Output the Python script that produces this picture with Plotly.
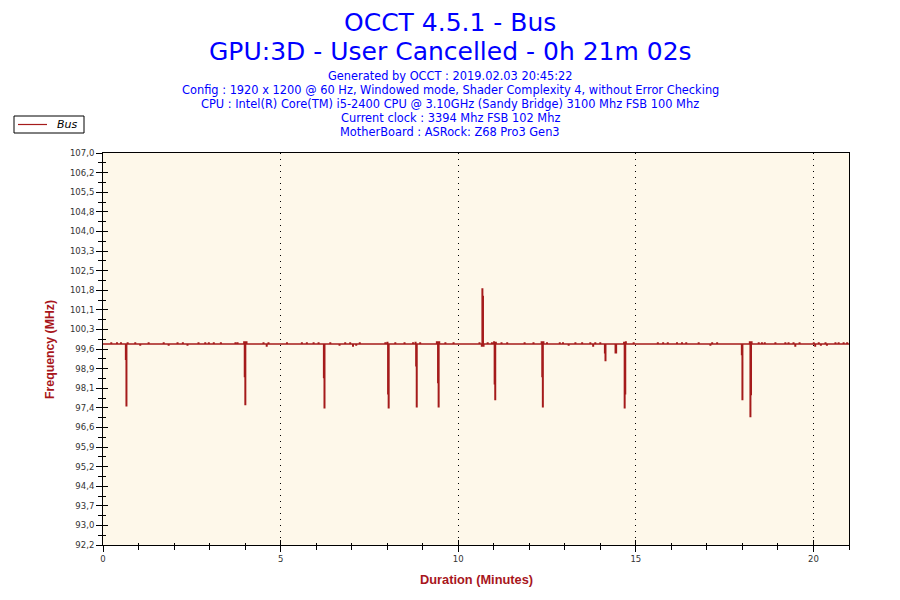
import plotly.graph_objects as go

# Bus clock readings, one per second, in minutes
BASE = 99.79
SAMPLE = 1 / 60
END = 21.03

spike_start = [0.635, 3.965, 6.21, 8.0, 8.79, 9.39, 10.655, 11.0,
               12.34, 14.12, 14.42, 14.66, 17.975, 18.2]
spike_samples = [
    [99.21, 97.46],
    [99.87, 98.56, 97.50, 99.87, 99.87],
    [98.52, 97.38],
    [99.85, 97.91, 97.38],
    [99.85, 98.97, 97.42],
    [99.87, 99.87, 98.33, 97.42, 99.87],
    [99.71, 101.87, 101.58, 99.71],
    [99.87, 98.29, 97.69, 99.85],
    [99.87, 98.56, 97.42, 99.87],
    [99.46, 99.16],
    [99.46, 99.46],
    [99.85, 97.38, 97.91, 99.87],
    [99.39, 97.69],
    [99.87, 97.05, 97.88, 99.87],
]

# small one-reading wobbles around the base clock
blip_up = [0.225, 0.385, 0.498, 0.685, 0.90, 1.276, 1.70, 2.09, 2.24, 2.68,
           2.87, 2.97, 3.11, 3.31, 3.72, 3.78, 4.51, 4.65, 5.17, 5.59, 5.73,
           5.92, 6.06, 6.39, 6.81, 6.95, 7.22, 7.94, 8.22, 8.48, 8.72, 8.92,
           9.63, 9.86, 10.59, 10.82, 10.94, 11.21, 11.37, 11.86, 12.11,
           12.49, 12.85, 12.94, 13.29, 13.48, 13.71, 13.85, 13.99, 14.93,
           15.61, 15.76, 15.89, 16.15, 16.29, 16.41, 16.76, 17.14, 17.28,
           18.45, 18.54, 18.62, 18.92, 19.20, 19.29, 19.43, 19.60, 20.00,
           20.14, 20.33, 20.61, 20.70, 20.84, 20.94]
blip_down = [1.04, 1.84, 2.37, 6.65, 7.12, 13.10, 17.09, 20.20, 20.37]
blip_deep = [4.60, 7.03, 13.79, 19.48, 20.04]
UP, DOWN, DEEP = 99.83, 99.75, 99.71

x_tickvals = [0, 5, 10, 15, 20]
y_tickvals = [92.2, 92.94, 93.68, 94.42, 95.16, 95.9, 96.64, 97.38, 98.12,
              98.86, 99.6, 100.34, 101.08, 101.82, 102.56, 103.3, 104.04,
              104.78, 105.52, 106.26, 107.0]
y_ticktext = ["92,2", "93,0", "93,7", "94,4", "95,2", "95,9", "96,6", "97,4",
              "98,1", "98,9", "99,6", "100,3", "101,1", "101,8", "102,5",
              "103,3", "104,0", "104,8", "105,5", "106,2", "107,0"]

title_lines = [
    ("OCCT 4.5.1 - Bus", 22, 25),
    ("GPU:3D - User Cancelled - 0h 21m 02s", 51, 25),
    ("Generated by OCCT : 2019.02.03 20:45:22", 76, 11.4),
    ("Config : 1920 x 1200 @ 60 Hz, Windowed mode, Shader Complexity 4, without Error Checking", 90, 11.4),
    ("CPU : Intel(R) Core(TM) i5-2400 CPU @ 3.10GHz (Sandy Bridge) 3100 Mhz FSB 100 Mhz", 104, 11.4),
    ("Current clock : 3394 Mhz FSB 102 Mhz", 118, 11.4),
    ("MotherBoard : ASRock: Z68 Pro3 Gen3", 132, 11.4),
]

events = [(t, vals) for t, vals in zip(spike_start, spike_samples)]
events += [(t, [UP]) for t in blip_up]
events += [(t, [DOWN]) for t in blip_down]
events += [(t, [DEEP]) for t in blip_deep]
events.sort(key=lambda e: e[0])

xs, ys = [0.0], [BASE]
for t, vals in events:
    for i, v in enumerate(vals):
        xs.append(t + i * SAMPLE)
        ys.append(v)
    xs.append(t + len(vals) * SAMPLE)
    ys.append(BASE)
xs.append(END)
ys.append(BASE)

# plot area as seen on screen; the page body adds an 8px margin
L, R, T, B = 103, 849, 153, 545
OFF = 8
W, H = 900, 600
LINE = "#a51b1b"
AXIS_RED = "#a8161c"
TICKFONT = dict(family="DejaVu Sans", size=8.5, color="#333333")

fig = go.Figure()
fig.add_trace(go.Scatter(x=xs, y=ys, mode="lines", name="Bus",
                         line=dict(color=LINE, width=1.4, shape="hv"),
                         showlegend=False))
# helper trace so the overlay axes (inner half of the ticks) get drawn
fig.add_trace(go.Scatter(x=[None], y=[None], xaxis="x2", yaxis="y2",
                         showlegend=False, hoverinfo="skip"))

xrange = [0, 21]
yrange = [92.2, 107.0]

fig.update_layout(
    width=W, height=H,
    margin=dict(l=L - OFF, r=W - (R - OFF), t=T - OFF, b=H - (B - OFF)),
    paper_bgcolor="white",
    plot_bgcolor="#fef8ea",
    xaxis=dict(range=xrange, tickmode="array", tickvals=x_tickvals,
               ticks="outside", ticklen=6, tickcolor="black", tickwidth=1,
               minor=dict(dtick=1, tick0=0, ticks="outside", ticklen=4,
                          tickcolor="black", showgrid=False),
               showline=True, linecolor="black", linewidth=1, mirror=True,
               showgrid=True, gridcolor="black", griddash="1px,5px",
               gridwidth=1, zeroline=False, tickfont=TICKFONT),
    yaxis=dict(range=yrange, tickmode="array", tickvals=y_tickvals,
               ticktext=y_ticktext, ticks="outside", ticklen=6,
               tickcolor="black", tickwidth=1,
               minor=dict(dtick=0.37, tick0=92.2, ticks="outside", ticklen=4,
                          tickcolor="black", showgrid=False),
               showline=True, linecolor="black", linewidth=1, mirror=True,
               showgrid=False, zeroline=False, tickfont=TICKFONT),
    xaxis2=dict(range=xrange, overlaying="x", anchor="y", side="bottom",
                tickmode="array", tickvals=x_tickvals,
                ticks="inside", ticklen=5, tickcolor="black",
                minor=dict(dtick=1, tick0=0, ticks="inside", ticklen=2,
                           tickcolor="black"),
                showticklabels=False, showgrid=False, zeroline=False,
                showline=False),
    yaxis2=dict(range=yrange, overlaying="y", anchor="x", side="left",
                tickmode="array", tickvals=y_tickvals,
                ticks="inside", ticklen=5, tickcolor="black",
                minor=dict(dtick=0.37, tick0=92.2, ticks="inside", ticklen=3,
                           tickcolor="black"),
                showticklabels=False, showgrid=False, zeroline=False,
                showline=False),
    showlegend=False,
)


def px_x(p):
    return (p - L) / (R - L)


def px_y(p):
    return (B - p) / (B - T)


for text, ypix, size in title_lines:
    fig.add_annotation(text=text, x=px_x(450), y=px_y(ypix), xref="paper",
                       yref="paper", showarrow=False, xanchor="center",
                       yanchor="middle",
                       font=dict(family="DejaVu Sans", size=size, color="#0000ff"))

# legend box drawn by hand so it keeps the small OCCT size
fig.add_shape(type="rect", xref="paper", yref="paper",
              x0=px_x(14), x1=px_x(84), y0=px_y(133), y1=px_y(116),
              line=dict(color="black", width=1), fillcolor="white")
fig.add_shape(type="line", xref="paper", yref="paper",
              x0=px_x(18), x1=px_x(47), y0=px_y(124.5), y1=px_y(124.5),
              line=dict(color=LINE, width=1.2))
fig.add_annotation(text="Bus", x=px_x(55), y=px_y(124.5), xref="paper",
                   yref="paper", showarrow=False, xanchor="left",
                   yanchor="middle",
                   font=dict(family="DejaVu Sans", size=11, color="black",
                             style="italic"))

fig.add_annotation(text="<b>Frequency (MHz)</b>", x=px_x(50), y=px_y(349),
                   xref="paper", yref="paper", showarrow=False, textangle=-90,
                   xanchor="center", yanchor="middle",
                   font=dict(family="Liberation Sans", size=12.3, color=AXIS_RED))
fig.add_annotation(text="<b>Duration (Minutes)</b>", x=px_x(476), y=px_y(579),
                   xref="paper", yref="paper", showarrow=False,
                   xanchor="center", yanchor="middle",
                   font=dict(family="Liberation Sans", size=12.8, color=AXIS_RED))

fig.write_html("out.html")
